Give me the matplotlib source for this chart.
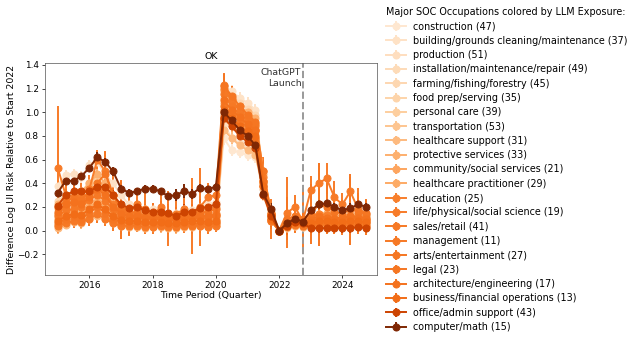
import numpy as np
import matplotlib
matplotlib.use("Agg")
import matplotlib.pyplot as plt

# quarters 2015Q1 .. 2024Q4
years = [2015, 2016, 2017, 2018, 2019, 2020, 2021, 2022, 2023, 2024]
quarters = [y + q / 4 for y in years for q in range(4)]

occupations = ["construction (47)", "building/grounds cleaning/maintenance (37)",
               "production (51)", "installation/maintenance/repair (49)",
               "farming/fishing/forestry (45)", "food prep/serving (35)",
               "personal care (39)", "transportation (53)",
               "healthcare support (31)", "protective services (33)",
               "community/social services (21)", "healthcare practitioner (29)",
               "education (25)", "life/physical/social science (19)",
               "sales/retail (41)", "management (11)", "arts/entertainment (27)",
               "legal (23)", "architecture/engineering (17)",
               "business/financial operations (13)", "office/admin support (43)",
               "computer/math (15)"]

# LLM exposure used for the colour scale
exposure = [0.12, 0.15, 0.17, 0.19, 0.21, 0.23, 0.26, 0.29, 0.33, 0.37, 0.41,
            0.39, 0.55, 0.56, 0.57, 0.57, 0.58, 0.58, 0.59, 0.61, 0.78, 1.0]

construction = [0.10, 0.12, 0.14, 0.12, 0.18, 0.20, 0.15, 0.10, 0.08, 0.06, 0.06, 0.05, 0.05, 0.06, 0.05, 0.04, 0.06, 0.05, 0.06, 0.05,
                0.06, 0.78, 0.68, 0.66, 0.64, 0.62, 0.40, 0.12, 0.00, 0.03, 0.05, 0.04, 0.04, 0.06, 0.05, 0.04, 0.05, 0.04, 0.05, 0.06]
building = [0.38, 0.47, 0.48, 0.45, 0.55, 0.58, 0.47, 0.40, 0.30, 0.22, 0.20, 0.18, 0.18, 0.17, 0.15, 0.15, 0.18, 0.17, 0.20, 0.22,
            0.24, 1.22, 1.18, 1.12, 1.08, 1.02, 0.45, 0.15, 0.00, 0.06, 0.08, 0.07, 0.10, 0.12, 0.11, 0.10, 0.12, 0.13, 0.12, 0.11]
production = [0.05, 0.08, 0.10, 0.09, 0.12, 0.15, 0.12, 0.08, 0.06, 0.05, 0.05, 0.04, 0.04, 0.05, 0.04, 0.03, 0.04, 0.05, 0.05, 0.04,
              0.05, 0.90, 0.78, 0.74, 0.70, 0.66, 0.30, 0.10, 0.00, 0.02, 0.04, 0.03, 0.03, 0.04, 0.05, 0.04, 0.03, 0.04, 0.05, 0.04]
installation = [0.15, 0.22, 0.25, 0.22, 0.30, 0.35, 0.28, 0.20, 0.14, 0.12, 0.12, 0.10, 0.11, 0.10, 0.09, 0.09, 0.10, 0.11, 0.12, 0.11,
                0.12, 1.10, 1.02, 0.96, 0.92, 0.88, 0.40, 0.15, 0.00, 0.05, 0.07, 0.06, 0.08, 0.09, 0.08, 0.07, 0.08, 0.09, 0.08, 0.09]
farming = [0.25, 0.30, 0.28, 0.33, 0.40, 0.45, 0.38, 0.28, 0.20, 0.18, 0.18, 0.15, 0.16, 0.15, 0.14, 0.13, 0.16, 0.15, 0.17, 0.18,
           0.18, 1.20, 1.14, 1.08, 1.03, 0.98, 0.45, 0.14, 0.00, 0.07, 0.10, 0.08, 0.12, 0.14, 0.13, 0.12, 0.11, 0.13, 0.14, 0.12]
food_prep = [0.08, 0.12, 0.15, 0.14, 0.20, 0.25, 0.20, 0.14, 0.10, 0.08, 0.08, 0.07, 0.07, 0.08, 0.07, 0.06, 0.07, 0.08, 0.08, 0.07,
             0.08, 1.15, 1.08, 1.00, 0.95, 0.92, 0.50, 0.12, 0.00, 0.04, 0.06, 0.05, 0.06, 0.07, 0.07, 0.06, 0.07, 0.06, 0.07, 0.08]
personal_care = [0.18, 0.25, 0.27, 0.30, 0.38, 0.44, 0.35, 0.25, 0.18, 0.16, 0.15, 0.14, 0.13, 0.13, 0.12, 0.11, 0.13, 0.14, 0.15, 0.14,
                 0.15, 1.05, 0.95, 0.90, 0.86, 0.82, 0.40, 0.12, 0.00, 0.05, 0.08, 0.06, 0.09, 0.10, 0.10, 0.09, 0.10, 0.11, 0.10, 0.09]
transportation = [0.12, 0.16, 0.18, 0.17, 0.22, 0.26, 0.22, 0.16, 0.12, 0.10, 0.10, 0.09, 0.09, 0.09, 0.08, 0.08, 0.09, 0.10, 0.10, 0.09,
                  0.10, 1.12, 1.05, 0.98, 0.94, 0.90, 0.42, 0.14, 0.00, 0.05, 0.07, 0.06, 0.07, 0.08, 0.08, 0.07, 0.08, 0.07, 0.08, 0.07]
healthcare_support = [0.02, 0.05, 0.07, 0.06, 0.10, 0.12, 0.10, 0.06, 0.04, 0.03, 0.03, 0.02, 0.03, 0.03, 0.02, 0.02, 0.03, 0.03, 0.04, 0.03,
                      0.04, 0.85, 0.78, 0.72, 0.68, 0.64, 0.35, 0.08, 0.00, 0.03, 0.04, 0.03, 0.04, 0.05, 0.04, 0.03, 0.04, 0.05, 0.04, 0.03]
protective = [0.22, 0.28, 0.30, 0.33, 0.40, 0.48, 0.40, 0.30, 0.20, 0.16, 0.16, 0.14, 0.14, 0.13, 0.12, 0.12, 0.14, 0.13, 0.16, 0.18,
              0.20, 1.18, 1.10, 1.05, 1.00, 0.95, 0.48, 0.16, 0.00, 0.06, 0.09, 0.07, 0.10, 0.14, 0.15, 0.12, 0.12, 0.14, 0.13, 0.12]
community = [0.05, 0.08, 0.10, 0.08, 0.12, 0.16, 0.12, 0.08, 0.06, 0.05, 0.06, 0.05, 0.05, 0.06, 0.05, 0.04, 0.05, 0.06, 0.06, 0.05,
             0.06, 0.95, 0.88, 0.82, 0.78, 0.74, 0.38, 0.10, 0.00, 0.04, 0.05, 0.04, 0.05, 0.06, 0.06, 0.05, 0.06, 0.07, 0.06, 0.05]
hc_practitioner = [0.10, 0.14, 0.16, 0.14, 0.20, 0.24, 0.20, 0.14, 0.10, 0.09, 0.08, 0.08, 0.08, 0.07, 0.07, 0.07, 0.08, 0.08, 0.09, 0.08,
                   0.09, 1.08, 1.00, 0.95, 0.90, 0.86, 0.42, 0.12, 0.00, 0.05, 0.06, 0.05, 0.06, 0.08, 0.07, 0.07, 0.08, 0.08, 0.07, 0.08]
education = [0.14, 0.20, 0.22, 0.24, 0.30, 0.36, 0.32, 0.22, 0.15, 0.13, 0.13, 0.12, 0.12, 0.11, 0.11, 0.10, 0.12, 0.12, 0.13, 0.12,
             0.14, 1.20, 1.10, 1.02, 0.96, 0.90, 0.45, 0.14, 0.00, 0.06, 0.09, 0.08, 0.12, 0.14, 0.13, 0.11, 0.10, 0.12, 0.12, 0.11]
life_science = [0.53, 0.30, 0.25, 0.30, 0.35, 0.60, 0.50, 0.30, 0.20, 0.15, 0.22, 0.18, 0.12, 0.20, 0.10, 0.14, 0.18, 0.12, 0.20, 0.28,
                0.30, 1.23, 1.12, 1.00, 0.92, 0.85, 0.50, 0.10, 0.00, 0.15, 0.20, 0.08, 0.34, 0.40, 0.44, 0.28, 0.22, 0.33, 0.18, 0.15]
sales = [0.04, 0.06, 0.08, 0.07, 0.10, 0.14, 0.10, 0.06, 0.04, 0.04, 0.04, 0.03, 0.03, 0.04, 0.03, 0.03, 0.04, 0.04, 0.04, 0.03,
         0.04, 1.05, 0.98, 0.92, 0.88, 0.84, 0.40, 0.08, 0.00, 0.03, 0.05, 0.04, 0.04, 0.05, 0.05, 0.04, 0.04, 0.05, 0.05, 0.04]
management = [0.12, 0.17, 0.18, 0.20, 0.26, 0.30, 0.25, 0.18, 0.12, 0.10, 0.11, 0.10, 0.10, 0.10, 0.09, 0.09, 0.10, 0.10, 0.11, 0.10,
              0.12, 1.15, 1.05, 0.98, 0.93, 0.88, 0.42, 0.12, 0.00, 0.05, 0.08, 0.07, 0.08, 0.10, 0.10, 0.09, 0.09, 0.10, 0.10, 0.09]
arts = [0.20, 0.25, 0.28, 0.26, 0.33, 0.40, 0.48, 0.30, 0.18, 0.14, 0.16, 0.12, 0.14, 0.13, 0.12, 0.10, 0.14, 0.12, 0.15, 0.16,
        0.18, 1.22, 1.14, 1.05, 0.98, 0.92, 0.50, 0.14, 0.00, 0.10, 0.12, 0.10, 0.14, 0.22, 0.20, 0.16, 0.14, 0.18, 0.16, 0.14]
legal = [0.06, 0.10, 0.12, 0.10, 0.15, 0.20, 0.15, 0.10, 0.07, 0.06, 0.06, 0.05, 0.06, 0.05, 0.05, 0.04, 0.06, 0.05, 0.06, 0.05,
         0.06, 1.00, 0.92, 0.86, 0.82, 0.78, 0.38, 0.08, 0.00, 0.04, 0.06, 0.05, 0.05, 0.07, 0.06, 0.05, 0.06, 0.06, 0.07, 0.06]
architecture = [0.16, 0.22, 0.24, 0.22, 0.28, 0.35, 0.30, 0.20, 0.14, 0.12, 0.12, 0.11, 0.11, 0.10, 0.10, 0.09, 0.11, 0.11, 0.12, 0.12,
                0.13, 1.10, 1.02, 0.96, 0.90, 0.85, 0.42, 0.14, 0.00, 0.06, 0.08, 0.07, 0.09, 0.12, 0.11, 0.10, 0.11, 0.12, 0.11, 0.10]
business = [0.08, 0.12, 0.14, 0.13, 0.18, 0.22, 0.18, 0.12, 0.09, 0.08, 0.08, 0.07, 0.07, 0.07, 0.06, 0.06, 0.07, 0.08, 0.08, 0.07,
            0.08, 1.02, 0.95, 0.88, 0.84, 0.80, 0.38, 0.10, 0.00, 0.04, 0.07, 0.06, 0.06, 0.08, 0.08, 0.07, 0.07, 0.08, 0.08, 0.07]
office = [0.21, 0.30, 0.33, 0.33, 0.33, 0.37, 0.37, 0.30, 0.22, 0.19, 0.20, 0.17, 0.16, 0.16, 0.15, 0.12, 0.16, 0.16, 0.19, 0.20,
          0.22, 0.95, 0.88, 0.80, 0.75, 0.70, 0.30, 0.12, 0.00, 0.04, 0.07, 0.06, 0.02, 0.02, 0.02, 0.02, 0.02, 0.02, 0.03, 0.02]
computer = [0.32, 0.42, 0.42, 0.46, 0.53, 0.62, 0.58, 0.50, 0.355, 0.32, 0.33, 0.355, 0.355, 0.33, 0.29, 0.30, 0.335, 0.31, 0.36, 0.35,
            0.37, 1.00, 0.93, 0.85, 0.80, 0.72, 0.31, 0.18, 0.00, 0.06, 0.10, 0.075, 0.17, 0.22, 0.23, 0.20, 0.17, 0.19, 0.22, 0.20]

# error bar half-widths
err_light = [0.05, 0.04, 0.04, 0.05, 0.05, 0.06, 0.05, 0.05, 0.04, 0.06, 0.04, 0.05, 0.04, 0.05, 0.04, 0.05, 0.04, 0.05, 0.04, 0.05,
             0.04, 0.06, 0.05, 0.05, 0.05, 0.05, 0.05, 0.05, 0.00, 0.05, 0.05, 0.05, 0.05, 0.05, 0.06, 0.05, 0.05, 0.06, 0.05, 0.05]
err_mid = [0.06, 0.05, 0.06, 0.05, 0.06, 0.08, 0.06, 0.06, 0.07, 0.06, 0.05, 0.06, 0.06, 0.05, 0.06, 0.05, 0.06, 0.07, 0.06, 0.06,
           0.05, 0.08, 0.06, 0.06, 0.06, 0.06, 0.07, 0.07, 0.00, 0.08, 0.07, 0.08, 0.08, 0.09, 0.08, 0.07, 0.08, 0.09, 0.08, 0.08]
err_life = [0.52, 0.12, 0.20, 0.10, 0.12, 0.08, 0.17, 0.18, 0.22, 0.20, 0.12, 0.15, 0.10, 0.16, 0.23, 0.12, 0.10, 0.32, 0.33, 0.12,
            0.10, 0.10, 0.10, 0.08, 0.08, 0.08, 0.12, 0.17, 0.00, 0.30, 0.10, 0.28, 0.12, 0.17, 0.13, 0.14, 0.10, 0.12, 0.18, 0.12]
err_arts = [0.08, 0.10, 0.09, 0.10, 0.08, 0.10, 0.18, 0.14, 0.25, 0.18, 0.10, 0.10, 0.09, 0.12, 0.10, 0.10, 0.08, 0.10, 0.12, 0.10,
            0.08, 0.10, 0.08, 0.07, 0.07, 0.07, 0.10, 0.10, 0.00, 0.18, 0.12, 0.18, 0.25, 0.35, 0.20, 0.15, 0.12, 0.30, 0.16, 0.12]
err_dark = [0.03, 0.03, 0.03, 0.03, 0.03, 0.04, 0.03, 0.04, 0.03, 0.03, 0.03, 0.03, 0.03, 0.03, 0.03, 0.05, 0.06, 0.04, 0.03, 0.03,
            0.03, 0.04, 0.03, 0.03, 0.03, 0.03, 0.04, 0.05, 0.00, 0.04, 0.04, 0.04, 0.03, 0.04, 0.03, 0.03, 0.04, 0.04, 0.03, 0.03]

series = [construction, building, production, installation, farming, food_prep,
          personal_care, transportation, healthcare_support, protective, community,
          hc_practitioner, education, life_science, sales, management, arts, legal,
          architecture, business, office, computer]
errors = [err_light] * 12 + [err_mid, err_life, err_mid, err_mid, err_arts,
                             err_mid, err_mid, err_mid, err_dark, err_dark]

plt.rcParams['font.size'] = 10
fig = plt.figure(figsize=(635 / 64, 338 / 64), dpi=64)
ax = fig.add_axes([0.071, 0.186, 0.523, 0.628])

cmap = plt.get_cmap('Oranges')
x = np.array(quarters)
for vals, errs, name, e in zip(series, errors, occupations, exposure):
    c = cmap(e)
    ax.errorbar(x, vals, yerr=errs, fmt='-o', color=c, ecolor=c, markersize=8,
                linewidth=2.2, elinewidth=2.2, capsize=0, label=name)

ax.axvline(2022.75, color='#999999', linestyle='--', linewidth=2.2)
ax.text(2022.7, 1.37, 'ChatGPT\nLaunch', ha='right', va='top', color='#333333',
        fontsize=10.5)

ax.set_xlim(2014.6, 2025.1)
ax.set_ylim(-0.377, 1.417)
ax.set_title('OK', fontsize=10.5, pad=4)
ax.set_xlabel('Time Period (Quarter)', labelpad=1, fontsize=10.5)
ax.set_ylabel('Difference Log UI Risk Relative to Start 2022', labelpad=2, fontsize=10.5)
ax.set_xticks([2016, 2018, 2020, 2022, 2024])
ax.set_yticks([-0.2, 0.0, 0.2, 0.4, 0.6, 0.8, 1.0, 1.2, 1.4])
for s in ax.spines.values():
    s.set_color('#555555')

fig.legend(loc='upper left', bbox_to_anchor=(0.595, 1.005), frameon=False,
           title='Major SOC Occupations colored by LLM Exposure:',
           alignment='left', labelspacing=0.45, handletextpad=0.8,
           fontsize=10.8, title_fontsize=10.8)

fig.savefig('out.png', dpi=64)
